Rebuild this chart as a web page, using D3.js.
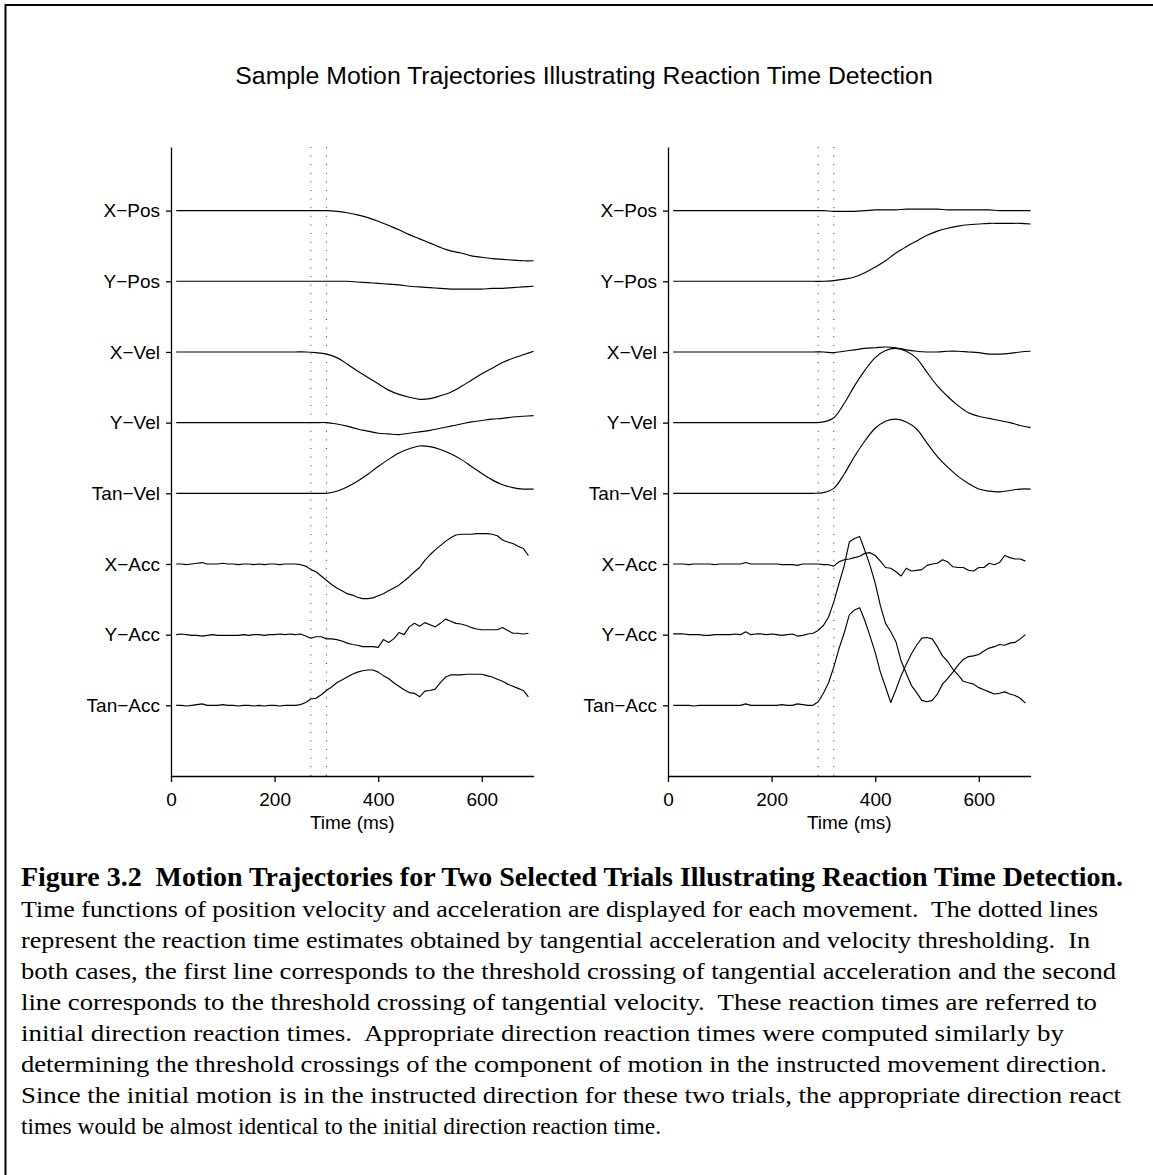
<!DOCTYPE html>
<html>
<head>
<meta charset="utf-8">
<script src="https://cdn.jsdelivr.net/npm/d3@7"></script>
<style>
  html, body { margin: 0; padding: 0; background: #fff; }
  svg { display: block; }
  .axis text { font-family: "Liberation Sans", Arial, sans-serif; font-size: 19px; fill: #000; }
  .axis path, .axis line { stroke: #000; stroke-width: 1.3; }
</style>
</head>
<body>
<svg id="fig" width="1153" height="1175"></svg>
<script>
// Row labels of the stacked traces, top to bottom
const rowLabels = ["X−Pos", "Y−Pos", "X−Vel", "Y−Vel", "Tan−Vel", "X−Acc", "Y−Acc", "Tan−Acc"];
const timeTicks = [0, 200, 400, 600];

// Sample times (ms) of the smooth position / velocity traces
const smoothTime = [10, 20, 40, 60, 80, 100, 120, 140, 160, 180, 200, 220, 240, 260, 280, 300, 320, 340,
  360, 380, 400, 420, 440, 460, 480, 500, 520, 540, 560, 580, 600, 620, 640, 660, 680, 700];
// Sample times (ms) of the acceleration traces
const accTime = [10, 20, 30, 40, 50, 60, 70, 80, 90, 100, 110, 120, 130, 140, 150, 160, 170, 180, 190, 200,
  210, 220, 230, 240, 250, 260, 270, 280, 290, 300, 310, 320, 330, 340, 350, 360, 370, 380, 390, 400,
  410, 420, 430, 440, 450, 460, 470, 480, 490, 500, 510, 520, 530, 540, 550, 560, 570, 580, 590, 600,
  610, 620, 630, 640, 650, 660, 670, 680, 690];

// Trial 1 (left) — normalised deflection of each trace, one unit = one row
const trial1XPos = [0, 0, 0, 0, 0, 0, 0, 0, 0, 0, 0, 0, 0, 0, 0, 0,
  -0.01, -0.03, -0.06, -0.10, -0.15, -0.21, -0.27, -0.34, -0.40, -0.46, -0.52, -0.57, -0.60, -0.64, -0.66, -0.68, -0.69, -0.70, -0.71, -0.71];
const trial1YPos = [0, 0, 0, 0, 0, 0, 0, 0, 0, 0, 0, 0, 0, 0, 0, 0, 0, 0,
  -0.01, -0.02, -0.03, -0.04, -0.05, -0.07, -0.08, -0.09, -0.10, -0.11, -0.11, -0.11, -0.11, -0.10, -0.10, -0.09, -0.08, -0.07];
const trial1XVel = [0, 0, 0, 0, 0, 0, 0, 0, 0, 0, 0, 0, 0, 0,
  -0.01, -0.03, -0.08, -0.17, -0.27, -0.36, -0.45, -0.54, -0.60, -0.64, -0.67, -0.66, -0.62, -0.57, -0.49, -0.40, -0.31, -0.23, -0.15, -0.09, -0.04, 0.01];
const trial1YVel = [0, 0, 0, 0, 0, 0, 0, 0, 0, 0, 0, 0, 0, 0, 0, 0,
  -0.02, -0.05, -0.09, -0.12, -0.15, -0.16, -0.17, -0.15, -0.13, -0.11, -0.08, -0.05, -0.02, 0.01, 0.03, 0.05, 0.06, 0.08, 0.09, 0.10];
const trial1TanVel = [0, 0, 0, 0, 0, 0, 0, 0, 0, 0, 0, 0, 0, 0, 0, 0,
  0.03, 0.09, 0.17, 0.27, 0.38, 0.48, 0.57, 0.63, 0.67, 0.66, 0.62, 0.56, 0.48, 0.38, 0.28, 0.19, 0.12, 0.08, 0.06, 0.06];
const trial1XAcc = [0.00, 0.00, -0.01, 0.00, 0.01, 0.02, 0.00, 0.00, 0.00, 0.01, 0.00, 0.00, -0.01, 0.00, 0.00, -0.01, 0.00, -0.01, 0.00, 0.00, -0.01, 0.00, 0.00, 0.00, -0.01,
  -0.03, -0.08, -0.11, -0.17, -0.23, -0.29, -0.34, -0.38, -0.42, -0.44, -0.47, -0.49, -0.49, -0.48, -0.45, -0.42, -0.38, -0.34, -0.30, -0.24, -0.18, -0.11, -0.05,
  0.05, 0.13, 0.20, 0.26, 0.32, 0.37, 0.41, 0.42, 0.42, 0.42, 0.43, 0.43, 0.43, 0.42, 0.40, 0.34, 0.31, 0.29, 0.25, 0.22, 0.12];
const trial1YAcc = [0.00, 0.01, 0.00, -0.01, -0.01, -0.02, -0.01, 0.00, -0.01, -0.01, -0.01, -0.01, -0.01, 0.00, -0.01, 0.00, 0.00, -0.01, 0.00, 0.00, 0.01, 0.00, 0.01, 0.00, 0.01,
  -0.02, -0.05, -0.03, -0.03, -0.06, -0.06, -0.07, -0.09, -0.12, -0.14, -0.15, -0.17, -0.17, -0.17, -0.18, -0.07, -0.11, -0.06, 0.03, 0.00,
  0.11, 0.16, 0.12, 0.17, 0.14, 0.11, 0.16, 0.22, 0.19, 0.16, 0.15, 0.13, 0.10, 0.08, 0.07, 0.07, 0.07, 0.07, 0.10, 0.06, 0.02, 0.02, 0.01, 0.02];
const trial1TanAcc = [0.00, 0.00, -0.01, 0.00, 0.01, 0.02, 0.00, 0.00, 0.00, 0.01, 0.00, 0.00, -0.01, 0.00, 0.00, -0.01, 0.00, -0.01, 0.00, 0.00, -0.01, 0.00, 0.00, 0.00,
  0.01, 0.04, 0.09, 0.10, 0.15, 0.21, 0.26, 0.32, 0.36, 0.40, 0.44, 0.47, 0.49, 0.50, 0.50, 0.47, 0.42, 0.38, 0.32, 0.27, 0.22, 0.18, 0.17, 0.12,
  0.20, 0.21, 0.23, 0.32, 0.40, 0.43, 0.43, 0.43, 0.44, 0.44, 0.44, 0.44, 0.42, 0.40, 0.37, 0.34, 0.30, 0.27, 0.24, 0.21, 0.12];
const trial1Rt = [270, 300];

// Trial 2 (right)
const trial2XPos = [0, 0, 0, 0, 0, 0, 0, 0, 0, 0, 0, 0, 0, 0, 0, 0,
  -0.01, -0.01, -0.01, 0.00, 0.01, 0.01, 0.01, 0.02, 0.02, 0.02, 0.02, 0.01, 0.01, 0.01, 0.01, 0.01, 0.00, 0.00, 0.00, 0.00];
const trial2YPos = [0, 0, 0, 0, 0, 0, 0, 0, 0, 0, 0, 0, 0, 0, 0, 0,
  0.01, 0.03, 0.06, 0.12, 0.20, 0.29, 0.40, 0.49, 0.57, 0.65, 0.71, 0.75, 0.78, 0.80, 0.81, 0.82, 0.82, 0.82, 0.82, 0.81];
const trial2XVel = [0, 0, 0, 0, 0, 0, 0, 0, 0, 0, 0, 0, 0, 0, 0, 0,
  -0.01, 0.01, 0.03, 0.05, 0.06, 0.07, 0.06, 0.03, 0.01, 0.00, 0.00, 0.01, 0.01, 0.00, -0.01, -0.03, -0.03, -0.02, 0.00, 0.01];
const trial2YVel = [0, 0, 0, 0, 0, 0, 0, 0, 0, 0, 0, 0, 0, 0,
  0.00, 0.01, 0.07, 0.27, 0.52, 0.74, 0.92, 1.02, 1.05, 1.01, 0.91, 0.71, 0.52, 0.37, 0.24, 0.14, 0.09, 0.06, 0.03, 0.00, -0.04, -0.07];
const trial2TanVel = [0, 0, 0, 0, 0, 0, 0, 0, 0, 0, 0, 0, 0, 0,
  0.00, 0.01, 0.07, 0.27, 0.52, 0.74, 0.92, 1.02, 1.05, 1.01, 0.91, 0.71, 0.52, 0.37, 0.24, 0.14, 0.06, 0.03, 0.02, 0.04, 0.06, 0.06];
const trial2XAcc = [0.00, 0.00, 0.00, -0.01, 0.00, 0.00, 0.00, 0.00, -0.01, 0.00, 0.00, 0.00, 0.00, 0.00, 0.02, 0.00, 0.00, 0.00, 0.00, 0.00,
  0.00, -0.01, -0.01, -0.01, -0.02, 0.00, 0.00, 0.00, 0.00, -0.01, -0.01,
  -0.03, 0.03, 0.06, 0.07, 0.09, 0.11, 0.15, 0.16, 0.12, 0.04, -0.05, -0.06, -0.11, -0.17, -0.06, -0.10, -0.09, -0.08, -0.02, 0.00,
  0.01, 0.06, 0.03, -0.04, -0.05, -0.05, -0.09, -0.10, -0.05, -0.05, 0.01, -0.01, 0.02, 0.12, 0.09, 0.07, 0.07, 0.04];
const trial2YAcc = [0.01, 0.01, 0.01, 0.00, 0.00, 0.00, -0.01, -0.01, 0.00, 0.00, 0.00, 0.00, 0.01, 0.00, 0.04, 0.00, 0.01, 0.01, 0.00, 0.01,
  0.00, -0.01, 0.00, 0.01, -0.02, -0.01, 0.01, 0.02,
  0.06, 0.13, 0.25, 0.46, 0.72, 0.97, 1.31, 1.36, 1.39, 1.19, 0.98, 0.73, 0.41, 0.16, 0.04, -0.10, -0.37, -0.55, -0.72, -0.82,
  -0.93, -0.95, -0.93, -0.84, -0.70, -0.62, -0.53, -0.43, -0.35, -0.31, -0.30, -0.28, -0.23, -0.19, -0.17, -0.14, -0.15, -0.12, -0.11, -0.06, 0.00];
const trial2TanAcc = [0.00, 0.00, 0.00, 0.00, -0.01, 0.00, 0.00, 0.00, 0.00, 0.00, 0.00, 0.00, 0.00, 0.00, 0.02, 0.00, 0.00, 0.00, 0.00, 0.00,
  0.00, 0.01, 0.00, 0.00, 0.02, 0.01, 0.00, 0.00,
  0.05, 0.17, 0.32, 0.54, 0.80, 1.02, 1.28, 1.35, 1.38, 1.20, 0.98, 0.75, 0.47, 0.26, 0.04, 0.22, 0.42, 0.58, 0.73, 0.85,
  0.95, 0.96, 0.94, 0.83, 0.70, 0.62, 0.51, 0.43, 0.34, 0.32, 0.30, 0.25, 0.22, 0.19, 0.16, 0.17, 0.19, 0.16, 0.14, 0.10, 0.03];
const trial2Rt = [290, 320];

const titleText = "Sample Motion Trajectories Illustrating Reaction Time Detection";
const xAxisTitle = "Time (ms)";
const captionHeading = "Figure 3.2  Motion Trajectories for Two Selected Trials Illustrating Reaction Time Detection.";
const captionBody = [
  "Time functions of position velocity and acceleration are displayed for each movement.  The dotted lines",
  "represent the reaction time estimates obtained by tangential acceleration and velocity thresholding.  In",
  "both cases, the first line corresponds to the threshold crossing of tangential acceleration and the second",
  "line corresponds to the threshold crossing of tangential velocity.  These reaction times are referred to",
  "initial direction reaction times.  Appropriate direction reaction times were computed similarly by",
  "determining the threshold crossings of the component of motion in the instructed movement direction.",
  "Since the initial motion is in the instructed direction for these two trials, the appropriate direction react",
  "times would be almost identical to the initial direction reaction time."
];
const captionHeadingWidth = 1102;
const captionBodyWidths = [1077, 1069, 1095, 1076, 1043, 1086, 1100, 640];

// ---------------------------------------------------------------------------
const svg = d3.select("#fig");

// page frame (left and top rules)
svg.append("path")
  .attr("d", "M5.5,1175 V5 H1153")
  .attr("fill", "none").attr("stroke", "#000").attr("stroke-width", 2);

svg.append("text")
  .attr("x", 584).attr("y", 84)
  .attr("text-anchor", "middle")
  .style("font-family", "'Liberation Sans', Arial, sans-serif")
  .style("font-size", "24.8px")
  .text(titleText);

const y = d3.scaleLinear().domain([0.1, 9]).range([147, 776]);
const rowIndex = d3.range(1, rowLabels.length + 1);

function drawPanel(left, series, rt) {
  const x = d3.scaleLinear().domain([0, 700]).range([left, left + 362.6]);
  const g = svg.append("g");

  // reaction-time markers
  g.selectAll("line.rt").data(rt).join("line")
    .attr("class", "rt")
    .attr("x1", d => x(d)).attr("x2", d => x(d))
    .attr("y1", y.range()[0]).attr("y2", y.range()[1])
    .attr("stroke", "#333").attr("stroke-width", 1)
    .attr("stroke-dasharray", "1 7.6");

  // traces, each offset onto its own row
  series.forEach((s, i) => {
    const row = i + 1;
    const pts = s.values.map((v, k) => [s.time[k], v]);
    const line = d3.line()
      .x(d => x(d[0]))
      .y(d => y(row - d[1]))
      .curve(s.smooth ? d3.curveCatmullRom.alpha(0.5) : d3.curveLinear);
    g.append("path")
      .attr("d", line(pts))
      .attr("fill", "none")
      .attr("stroke", "#000")
      .attr("stroke-width", 1.15)
      .attr("stroke-linejoin", "round");
  });

  // axes
  g.append("g").attr("class", "axis")
    .attr("transform", `translate(${left},0)`)
    .call(d3.axisLeft(y).tickValues(rowIndex).tickFormat(i => rowLabels[i - 1])
      .tickSize(5).tickPadding(6).tickSizeOuter(0));

  g.append("g").attr("class", "axis")
    .attr("transform", `translate(0,${y.range()[1]})`)
    .call(d3.axisBottom(x).tickValues(timeTicks).tickFormat(d3.format("d"))
      .tickSize(6).tickPadding(11).tickSizeOuter(0));

  g.append("text")
    .attr("x", x(350)).attr("y", 829)
    .attr("text-anchor", "middle")
    .style("font-family", "'Liberation Sans', Arial, sans-serif")
    .style("font-size", "19px")
    .text(xAxisTitle);
}

function traces(xp, yp, xv, yv, tv, xa, ya, ta) {
  return [
    { values: xp, time: smoothTime, smooth: true },
    { values: yp, time: smoothTime, smooth: true },
    { values: xv, time: smoothTime, smooth: true },
    { values: yv, time: smoothTime, smooth: true },
    { values: tv, time: smoothTime, smooth: true },
    { values: xa, time: accTime, smooth: false },
    { values: ya, time: accTime, smooth: false },
    { values: ta, time: accTime, smooth: false }
  ];
}

drawPanel(171, traces(trial1XPos, trial1YPos, trial1XVel, trial1YVel, trial1TanVel,
  trial1XAcc, trial1YAcc, trial1TanAcc), trial1Rt);
drawPanel(668, traces(trial2XPos, trial2YPos, trial2XVel, trial2YVel, trial2TanVel,
  trial2XAcc, trial2YAcc, trial2TanAcc), trial2Rt);

// figure caption: bold heading, then the body text (double spaces kept)
const cap = svg.append("g")
  .style("font-family", "'Liberation Serif', 'Times New Roman', serif");
cap.append("text")
  .attr("xml:space", "preserve")
  .style("white-space", "pre")
  .attr("x", 21).attr("y", 886)
  .attr("textLength", captionHeadingWidth)
  .attr("lengthAdjust", "spacingAndGlyphs")
  .style("font-size", "27.5px")
  .style("font-weight", "bold")
  .text(captionHeading);
captionBody.forEach((t, i) => {
  cap.append("text")
    .attr("xml:space", "preserve")
    .style("white-space", "pre")
    .attr("x", 21)
    .attr("y", 917 + i * 31)
    .attr("textLength", captionBodyWidths[i])
    .attr("lengthAdjust", "spacingAndGlyphs")
    .style("font-size", "23.4px")
    .text(t);
});
</script>
</body>
</html>
